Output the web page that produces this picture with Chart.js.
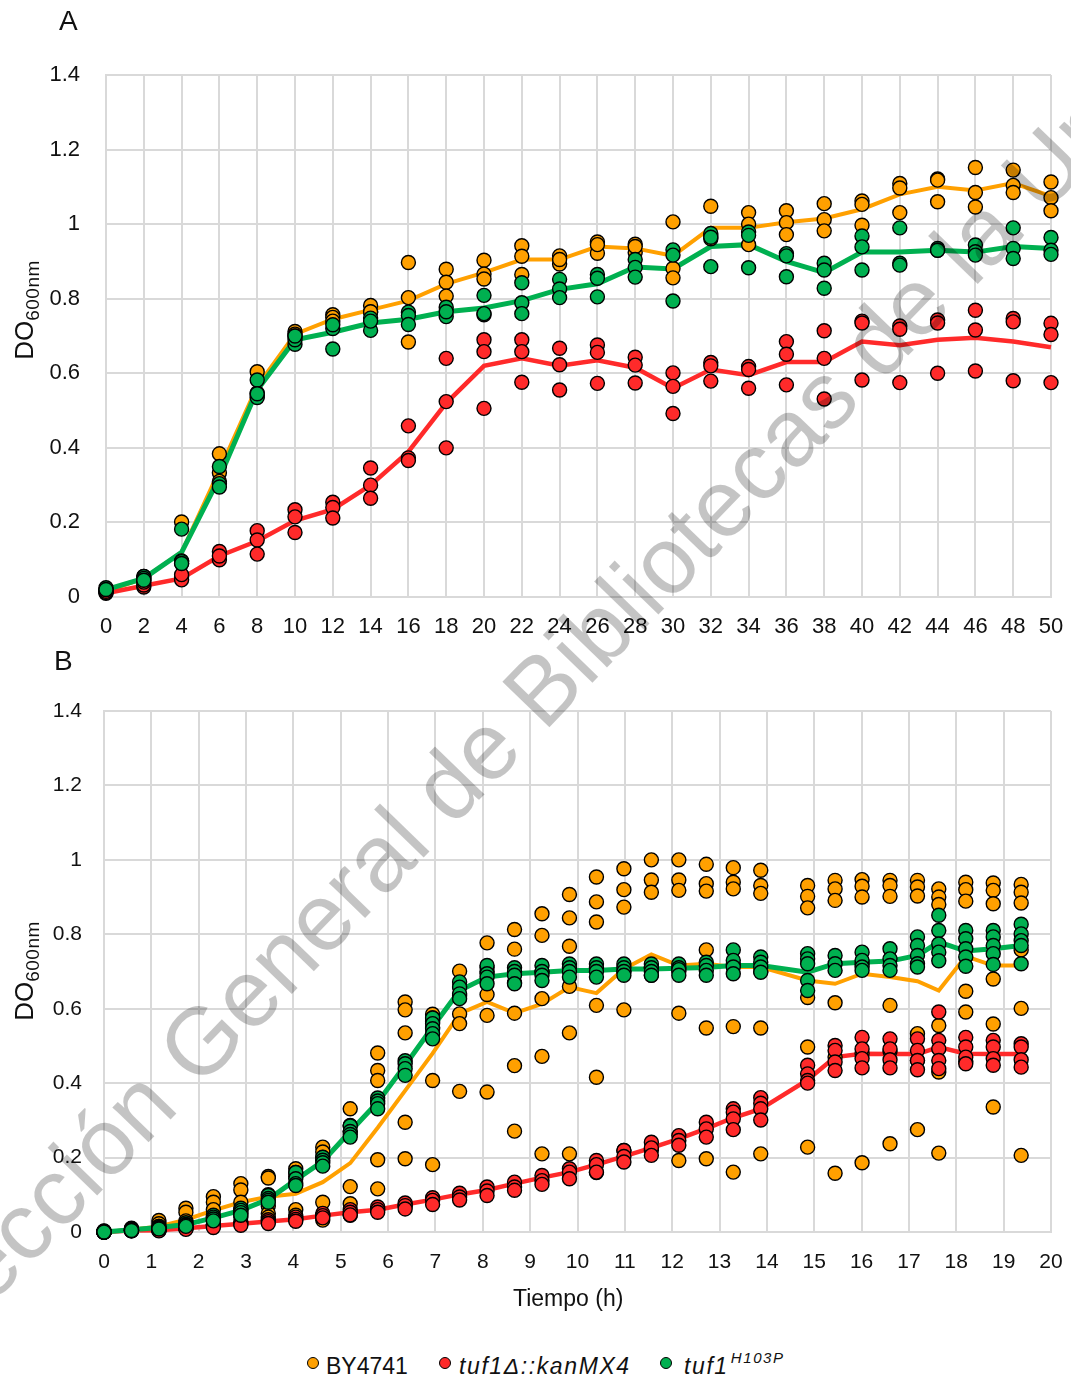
<!DOCTYPE html>
<html>
<head>
<meta charset="utf-8">
<script src="https://cdn.jsdelivr.net/npm/chart.js@4.4.1/dist/chart.umd.min.js"></script>
<style>
  body { margin: 0; background: #fff; font-family: "Liberation Sans", Arial, sans-serif; color: #111; }
  #page { position: relative; width: 1071px; height: 1379px; overflow: hidden; background: #fff; }
  canvas { position: absolute; left: 0; }
  .panel { position: absolute; font-size: 28px; line-height: 28px; }
  .ytitle { position: absolute; width: 200px; height: 28px; line-height: 28px; text-align: center;
            font-size: 26px; transform: rotate(-90deg); white-space: nowrap; }
  .ytitle sub { font-size: 19px; line-height: 0; vertical-align: -6px; letter-spacing: 0.5px; }
  .xtitle { position: absolute; font-size: 23px; line-height: 24px; white-space: nowrap; }
  .leg { position: absolute; font-size: 23px; line-height: 24px; white-space: nowrap; }
  .leg sup { font-size: 15px; line-height: 0; vertical-align: 11px; margin-left: 2px; }
  .dot { position: absolute; width: 10px; height: 10px; border: 1.5px solid #000; border-radius: 50%; }
  #mark { position: absolute; left: 0; top: 0; pointer-events: none; }
</style>
</head>
<body>
<div id="page">
  <canvas id="chartA" width="1071" height="650" style="top:0"></canvas>
  <canvas id="chartB" width="1071" height="640" style="top:650px"></canvas>

  <div class="panel" style="left:59px; top:7px;">A</div>
  <div class="panel" style="left:54px; top:647px;">B</div>

  <div class="ytitle" style="left:-76px; top:296px;">DO<sub>600nm</sub></div>
  <div class="ytitle" style="left:-76px; top:957px;">DO<sub>600nm</sub></div>

  <div class="xtitle" style="left:513px; top:1286px;">Tiempo (h)</div>

  <div class="dot" style="left:307px; top:1357px; background:#FFA000"></div>
  <div class="leg" style="left:326px; top:1354px;">BY4741</div>
  <div class="dot" style="left:439px; top:1357px; background:#FF2A2A"></div>
  <div class="leg" style="left:459px; top:1354px; letter-spacing:1.6px;"><i>tuf1Δ::kanMX4</i></div>
  <div class="dot" style="left:660px; top:1357px; background:#00B050"></div>
  <div class="leg" style="left:684px; top:1354px; letter-spacing:1.6px;"><i>tuf1<sup>H103P</sup></i></div>

  <svg id="mark" width="1071" height="1379">
    <text x="-109" y="1409" transform="rotate(-46 -109 1409)" font-family="Liberation Sans, Arial, sans-serif"
          font-size="95" fill="rgba(0,0,0,0.23)">Colección General de Bibliotecas de la Universidad</text>
  </svg>
</div>

<script>
// ---------- Panel A: 0–50 h, three replicates per strain ----------
const hoursA = [0, 2, 4, 6, 8, 10, 12, 14, 16, 18, 20, 22, 24, 26, 28, 30, 32, 34, 36, 38, 40, 42, 44, 46, 48, 50];

const wtMeanA = [0.015, 0.05, 0.12, 0.34, 0.565, 0.705, 0.745, 0.77, 0.795, 0.84, 0.87, 0.905, 0.905, 0.94, 0.935, 0.915,
                 0.99, 0.99, 1.005, 1.015, 1.04, 1.08, 1.10, 1.09, 1.11, 1.075];
const delMeanA = [0.01, 0.03, 0.05, 0.11, 0.15, 0.205, 0.235, 0.30, 0.39, 0.52, 0.62, 0.64, 0.62, 0.635, 0.615, 0.56,
                  0.61, 0.595, 0.63, 0.63, 0.685, 0.675, 0.69, 0.695, 0.685, 0.67];
const mutMeanA = [0.02, 0.05, 0.12, 0.32, 0.555, 0.69, 0.71, 0.735, 0.745, 0.765, 0.775, 0.795, 0.825, 0.84, 0.885, 0.88,
                  0.94, 0.945, 0.90, 0.87, 0.925, 0.925, 0.93, 0.925, 0.94, 0.935];

const wtRepsA = [
  [0.015, 0.02, 0.018], [0.049, 0.045, 0.055], [0.201, 0.097, 0.09], [0.384, 0.333, 0.31], [0.604, 0.547, 0.54],
  [0.712, 0.705, 0.70], [0.757, 0.75, 0.74], [0.782, 0.764, 0.765], [0.897, 0.803, 0.684], [0.879, 0.844, 0.807],
  [0.903, 0.866, 0.853], [0.942, 0.914, 0.865], [0.915, 0.893, 0.905], [0.952, 0.922, 0.945], [0.946, 0.924, 0.94],
  [1.006, 0.881, 0.856], [1.048, 0.97, 0.961], [1.031, 1.0, 0.945], [1.036, 1.004, 0.972], [1.055, 1.012, 0.982],
  [1.062, 1.053, 0.997], [1.109, 1.097, 1.031], [1.121, 1.118, 1.06], [1.152, 1.085, 1.046], [1.145, 1.104, 1.085],
  [1.113, 1.071, 1.036]
];
const delRepsA = [
  [0.01, 0.012, 0.015], [0.027, 0.032, 0.04], [0.055, 0.046, 0.06], [0.122, 0.10, 0.11], [0.178, 0.153, 0.115],
  [0.234, 0.215, 0.173], [0.254, 0.24, 0.212], [0.346, 0.30, 0.265], [0.459, 0.373, 0.366], [0.64, 0.524, 0.40],
  [0.69, 0.658, 0.506], [0.69, 0.658, 0.576], [0.667, 0.623, 0.555], [0.676, 0.656, 0.573], [0.643, 0.622, 0.574],
  [0.601, 0.565, 0.492], [0.629, 0.62, 0.579], [0.618, 0.61, 0.56], [0.685, 0.651, 0.569], [0.714, 0.64, 0.531],
  [0.74, 0.735, 0.582], [0.727, 0.718, 0.575], [0.743, 0.735, 0.60], [0.769, 0.716, 0.606], [0.747, 0.738, 0.58],
  [0.734, 0.704, 0.575]
];
const mutRepsA = [
  [0.02, 0.025, 0.02], [0.055, 0.05, 0.045], [0.182, 0.095, 0.09], [0.304, 0.295, 0.35], [0.582, 0.535, 0.545],
  [0.678, 0.69, 0.70], [0.72, 0.73, 0.665], [0.748, 0.715, 0.74], [0.764, 0.755, 0.731], [0.777, 0.752, 0.765],
  [0.809, 0.757, 0.76], [0.843, 0.789, 0.76], [0.852, 0.826, 0.803], [0.865, 0.855, 0.805], [0.905, 0.884, 0.858],
  [0.931, 0.917, 0.794], [0.975, 0.965, 0.886], [0.979, 0.97, 0.883], [0.921, 0.915, 0.859], [0.895, 0.877, 0.828],
  [0.968, 0.939, 0.877], [0.99, 0.895, 0.89], [0.935, 0.93, 0.93], [0.944, 0.926, 0.917], [0.99, 0.935, 0.908],
  [0.964, 0.93, 0.919]
];

// ---------- Panel B: 0–20 h, sampled every ~35 min ----------
const hoursB = [0, 0.58, 1.16, 1.73, 2.31, 2.89, 3.47, 4.05, 4.62, 5.2, 5.78, 6.36, 6.94, 7.51, 8.09, 8.67, 9.25,
                9.83, 10.4, 10.98, 11.56, 12.14, 12.72, 13.29, 13.87, 14.86, 15.44, 16.01, 16.6, 17.18, 17.63,
                18.2, 18.78, 19.37];

const wtMeanB = [0.0, 0.006, 0.015, 0.033, 0.058, 0.08, 0.095, 0.103, 0.134, 0.185, 0.28, 0.38, 0.48, 0.587, 0.618,
                 0.588, 0.613, 0.658, 0.642, 0.707, 0.746, 0.716, 0.721, 0.712, 0.712, 0.676, 0.667, 0.694, 0.685,
                 0.674, 0.649, 0.741, 0.716, 0.716];
const delMeanB = [0.0, 0.004, 0.005, 0.01, 0.016, 0.022, 0.028, 0.034, 0.044, 0.053, 0.06, 0.074, 0.087, 0.101, 0.113,
                  0.13, 0.146, 0.161, 0.181, 0.203, 0.226, 0.25, 0.278, 0.307, 0.331, 0.409, 0.47, 0.479, 0.478,
                  0.478, 0.497, 0.479, 0.478, 0.478];
const mutMeanB = [0.0, 0.006, 0.012, 0.02, 0.038, 0.058, 0.088, 0.14, 0.19, 0.27, 0.349, 0.448, 0.551, 0.649, 0.685,
                  0.694, 0.698, 0.703, 0.703, 0.707, 0.707, 0.709, 0.711, 0.716, 0.716, 0.698, 0.721, 0.725, 0.728,
                  0.743, 0.779, 0.755, 0.761, 0.77];

const wtRepsB = [
  [0.003, 0.002, 0.0, 0.0, 0.0, 0.0], [0.01, 0.008, 0.006, 0.005, 0.004, 0.003], [0.031, 0.022, 0.015, 0.008, 0.005, 0.005],
  [0.064, 0.053, 0.03, 0.02, 0.01, 0.01], [0.095, 0.08, 0.06, 0.04, 0.03, 0.02], [0.13, 0.113, 0.08, 0.06, 0.05, 0.04],
  [0.149, 0.145, 0.1, 0.07, 0.05, 0.04], [0.17, 0.16, 0.15, 0.06, 0.045, 0.035], [0.228, 0.215, 0.2, 0.08, 0.045, 0.032],
  [0.331, 0.286, 0.27, 0.122, 0.076, 0.045], [0.481, 0.434, 0.407, 0.194, 0.116, 0.06], [0.618, 0.597, 0.535, 0.295, 0.197, 0.07],
  [0.585, 0.575, 0.565, 0.55, 0.407, 0.181], [0.701, 0.66, 0.635, 0.586, 0.56, 0.378], [0.777, 0.71, 0.70, 0.638, 0.582, 0.376],
  [0.813, 0.76, 0.67, 0.588, 0.447, 0.271], [0.855, 0.797, 0.70, 0.627, 0.472, 0.21], [0.907, 0.844, 0.768, 0.66, 0.535, 0.21],
  [0.954, 0.887, 0.833, 0.609, 0.416, 0.16], [0.976, 0.92, 0.873, 0.70, 0.597, 0.219], [1.0, 0.946, 0.913, 0.71, 0.69, 0.22],
  [1.0, 0.946, 0.918, 0.70, 0.588, 0.192], [0.988, 0.936, 0.916, 0.758, 0.548, 0.197], [0.979, 0.94, 0.922, 0.718, 0.552, 0.161],
  [0.972, 0.931, 0.91, 0.70, 0.548, 0.21], [0.931, 0.902, 0.871, 0.63, 0.497, 0.228], [0.945, 0.922, 0.891, 0.616, 0.47, 0.158],
  [0.947, 0.929, 0.90, 0.72, 0.48, 0.186], [0.945, 0.931, 0.902, 0.609, 0.486, 0.237], [0.945, 0.927, 0.903, 0.533, 0.461, 0.275],
  [0.922, 0.90, 0.88, 0.555, 0.43, 0.212], [0.94, 0.92, 0.889, 0.647, 0.591, 0.459], [0.938, 0.918, 0.882, 0.68, 0.559, 0.336],
  [0.934, 0.913, 0.884, 0.758, 0.601, 0.206]
];
const delRepsB = [
  [0.0, 0.0, 0.0], [0.005, 0.004, 0.003], [0.007, 0.005, 0.003], [0.013, 0.01, 0.007], [0.02, 0.016, 0.012],
  [0.027, 0.022, 0.018], [0.033, 0.028, 0.023], [0.04, 0.034, 0.029], [0.05, 0.044, 0.038], [0.06, 0.053, 0.046],
  [0.067, 0.06, 0.053], [0.078, 0.071, 0.062], [0.092, 0.085, 0.074], [0.104, 0.094, 0.086], [0.121, 0.11, 0.098],
  [0.134, 0.121, 0.112], [0.152, 0.138, 0.128], [0.17, 0.161, 0.143], [0.192, 0.181, 0.161], [0.219, 0.203, 0.188],
  [0.241, 0.226, 0.206], [0.259, 0.246, 0.233], [0.295, 0.277, 0.255], [0.331, 0.322, 0.304, 0.275],
  [0.361, 0.346, 0.331, 0.301], [0.448, 0.425, 0.407, 0.40], [0.501, 0.488, 0.457, 0.434], [0.523, 0.492, 0.466, 0.441],
  [0.519, 0.492, 0.463, 0.441], [0.519, 0.488, 0.461, 0.436], [0.591, 0.515, 0.492, 0.461, 0.439],
  [0.523, 0.497, 0.47, 0.452], [0.515, 0.497, 0.466, 0.448], [0.506, 0.497, 0.463, 0.443]
];
const mutRepsB = [
  [0.0, 0.0, 0.0, 0.0], [0.008, 0.006, 0.005, 0.004], [0.015, 0.012, 0.01, 0.008], [0.025, 0.02, 0.018, 0.015],
  [0.045, 0.04, 0.035, 0.03], [0.064, 0.058, 0.052, 0.045], [0.098, 0.09, 0.085, 0.08], [0.16, 0.143, 0.13, 0.125],
  [0.201, 0.193, 0.186, 0.177], [0.285, 0.27, 0.262, 0.255], [0.36, 0.352, 0.345, 0.331], [0.46, 0.452, 0.439, 0.421],
  [0.575, 0.56, 0.546, 0.533, 0.519], [0.672, 0.658, 0.64, 0.627], [0.716, 0.694, 0.685, 0.667], [0.71, 0.70, 0.69, 0.667],
  [0.716, 0.70, 0.69, 0.676], [0.72, 0.71, 0.70, 0.685], [0.72, 0.71, 0.70, 0.685], [0.72, 0.71, 0.70, 0.69],
  [0.72, 0.71, 0.70, 0.69], [0.72, 0.71, 0.705, 0.69], [0.725, 0.716, 0.703, 0.69], [0.758, 0.73, 0.712, 0.694],
  [0.739, 0.725, 0.712, 0.698], [0.748, 0.734, 0.721, 0.676, 0.649], [0.743, 0.721, 0.703], [0.752, 0.73, 0.712, 0.703],
  [0.761, 0.734, 0.716, 0.703], [0.793, 0.77, 0.743, 0.721, 0.712], [0.851, 0.81, 0.774, 0.752, 0.729],
  [0.81, 0.788, 0.761, 0.739, 0.714], [0.81, 0.793, 0.77, 0.748, 0.719], [0.827, 0.801, 0.783, 0.77, 0.721]
];

const yTicks = [0, 0.2, 0.4, 0.6, 0.8, 1, 1.2, 1.4];
const ticksA = [0, 2, 4, 6, 8, 10, 12, 14, 16, 18, 20, 22, 24, 26, 28, 30, 32, 34, 36, 38, 40, 42, 44, 46, 48, 50];
const ticksB = [0, 1, 2, 3, 4, 5, 6, 7, 8, 9, 10, 11, 12, 13, 14, 15, 16, 17, 18, 19, 20];

// ---------- shared styling ----------
const FONT = '"Liberation Sans", Arial, sans-serif';
const GRID = '#d9d9d9';
const WT = '#FFA000', DEL = '#FF2A2A', MUT = '#00B050';

function replicatePoints(hours, reps) {
  const pts = [];
  hours.forEach((h, i) => reps[i].forEach(v => pts.push({ x: h, y: v })));
  return pts;
}
function meanPoints(hours, means) {
  return hours.map((h, i) => ({ x: h, y: means[i] }));
}
function lineSet(data, color, width, order) {
  return { data, showLine: true, borderColor: color, borderWidth: width, pointRadius: 0,
           fill: false, tension: 0, order, clip: false };
}
function dotSet(data, color, order) {
  return { data, showLine: false, pointRadius: 7, pointHoverRadius: 7, pointBackgroundColor: color,
           pointBorderColor: '#000', pointBorderWidth: 1.4, order, clip: false };
}

function buildChart(id, hours, means, reps, opt) {
  const [wtM, delM, mutM] = means;
  const [wtR, delR, mutR] = reps;
  return new Chart(document.getElementById(id), {
    type: 'scatter',
    data: {
      datasets: [
        lineSet(meanPoints(hours, wtM), WT, 4, 6),
        lineSet(meanPoints(hours, delM), DEL, 4.5, 5),
        lineSet(meanPoints(hours, mutM), MUT, 5, 4),
        dotSet(replicatePoints(hours, wtR), WT, 3),
        dotSet(replicatePoints(hours, delR), DEL, 2),
        dotSet(replicatePoints(hours, mutR), MUT, 1)
      ]
    },
    options: {
      responsive: false,
      animation: false,
      events: [],
      layout: { padding: { left: 0, right: 20, top: opt.top, bottom: 0 } },
      plugins: { legend: { display: false }, tooltip: { enabled: false } },
      scales: {
        x: {
          type: 'linear', min: 0, max: opt.max,
          afterFit: s => { s.height = opt.axisH; s.paddingLeft = 0; s.paddingRight = 0; },
          afterBuildTicks: s => { s.ticks = opt.ticks.map(v => ({ value: v })); },
          ticks: { autoSkip: false, maxRotation: 0, color: '#111', padding: opt.xPad,
                   font: { family: FONT, size: opt.fontSize } },
          grid: { color: GRID, lineWidth: 2, drawTicks: false },
          border: { color: GRID, width: 2 }
        },
        y: {
          type: 'linear', min: 0, max: 1.4,
          afterFit: s => { s.width = opt.left; s.paddingTop = 0; s.paddingBottom = 0; },
          afterBuildTicks: s => { s.ticks = yTicks.map(v => ({ value: v })); },
          ticks: { color: '#111', padding: opt.yPad, font: { family: FONT, size: opt.fontSize },
                   callback: v => String(Number(v.toFixed(1))) },
          grid: { color: GRID, lineWidth: 2, drawTicks: false },
          border: { color: GRID, width: 2 }
        }
      }
    }
  });
}

buildChart('chartA', hoursA, [wtMeanA, delMeanA, mutMeanA], [wtRepsA, delRepsA, mutRepsA],
  { max: 50, ticks: ticksA, top: 75, axisH: 53, left: 106, xPad: 17, yPad: 26, fontSize: 22 });
buildChart('chartB', hoursB, [wtMeanB, delMeanB, mutMeanB], [wtRepsB, delRepsB, mutRepsB],
  { max: 20, ticks: ticksB, top: 61, axisH: 58, left: 104, xPad: 18, yPad: 22, fontSize: 21 });
</script>
</body>
</html>
